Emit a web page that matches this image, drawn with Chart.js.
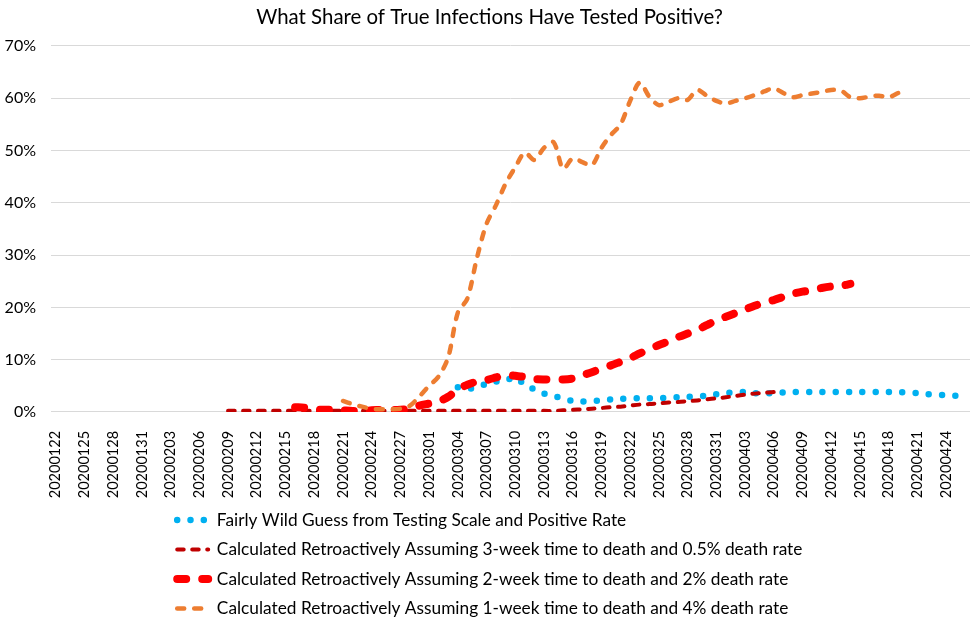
<!DOCTYPE html>
<html lang="en">
<head>
    <meta charset="UTF-8">
    <title>What Share of True Infections Have Tested Positive?</title>
    <style>
        body {
            margin: 0;
            background: #fff;
        }
        .chart-box {
            width: 979px;
            height: 624px;
        }
    </style>
</head>
<body>
<div class="chart-box">
    <canvas id="share-chart"></canvas>
</div>

<script src="https://cdn.jsdelivr.net/npm/chart.js"></script>
<script>
    // Categories: one per day, labelled every third day on the axis
    const dates = [
        '20200122', '20200123', '20200124', '20200125', '20200126', '20200127', '20200128', '20200129', '20200130', '20200131',
        '20200201', '20200202', '20200203', '20200204', '20200205', '20200206', '20200207', '20200208', '20200209', '20200210',
        '20200211', '20200212', '20200213', '20200214', '20200215', '20200216', '20200217', '20200218', '20200219', '20200220',
        '20200221', '20200222', '20200223', '20200224', '20200225', '20200226', '20200227', '20200228', '20200229',
        '20200301', '20200302', '20200303', '20200304', '20200305', '20200306', '20200307', '20200308', '20200309', '20200310',
        '20200311', '20200312', '20200313', '20200314', '20200315', '20200316', '20200317', '20200318', '20200319', '20200320',
        '20200321', '20200322', '20200323', '20200324', '20200325', '20200326', '20200327', '20200328', '20200329', '20200330',
        '20200331',
        '20200401', '20200402', '20200403', '20200404', '20200405', '20200406', '20200407', '20200408', '20200409', '20200410',
        '20200411', '20200412', '20200413', '20200414', '20200415', '20200416', '20200417', '20200418', '20200419', '20200420',
        '20200421', '20200422', '20200423', '20200424', '20200425', '20200426'
    ];

    const N = null; // no value for that day

    // Fairly wild guess (percent), starts 20200304
    const wildGuess = [
        N, N, N, N, N, N, N, N, N, N,
        N, N, N, N, N, N, N, N, N, N,
        N, N, N, N, N, N, N, N, N, N,
        N, N, N, N, N, N, N, N, N, N,
        N, N,
        4.7, 4.5, 4.6, 5.4, 5.8, 6.0, 6.6, 5.2, 4.3, 3.5,
        3.1, 2.5, 2.1, 2.0, 2.1, 2.2, 2.4, 2.5, 2.6, 2.6,
        2.6, 2.6, 2.7, 2.8, 2.9, 3.0, 3.1, 3.4, 3.6, 3.7,
        3.8, 3.6, 3.6, 3.6, 3.7, 3.8, 3.8, 3.8, 3.8, 3.8,
        3.8, 3.8, 3.8, 3.8, 3.8, 3.8, 3.8, 3.7, 3.6, 3.4,
        3.3, 3.2, 3.1, 3.1
    ];

    // 3-week time to death, 0.5% death rate (20200209 .. 20200406)
    const threeWeek = [
        N, N, N, N, N, N, N, N, N, N,
        N, N, N, N, N, N, N, N,
        0.2, 0.2, 0.2, 0.2, 0.2, 0.2, 0.2, 0.2, 0.2, 0.2,
        0.2, 0.2, 0.2, 0.2, 0.2, 0.2, 0.2, 0.2, 0.2, 0.2,
        0.2, 0.2, 0.2, 0.2, 0.2, 0.2, 0.2, 0.2, 0.2, 0.2,
        0.2, 0.2, 0.2, 0.2, 0.2,
        0.3, 0.4, 0.5, 0.6, 0.75, 0.9, 1.0, 1.2, 1.4, 1.5,
        1.65, 1.8, 1.9, 2.05, 2.2, 2.4, 2.6, 2.8, 3.05, 3.3,
        3.5, 3.65, 3.8,
        N, N, N, N, N, N, N, N, N, N,
        N, N, N, N, N, N, N, N, N, N
    ];

    // 2-week time to death, 2% death rate (20200216 .. 20200414)
    const twoWeek = [
        N, N, N, N, N, N, N, N, N, N,
        N, N, N, N, N, N, N, N, N, N,
        N, N, N, N, N,
        0.9, 0.8, 0.5, 0.4, 0.4, 0.3, 0.2, 0.2, 0.3, 0.4,
        0.4, 0.4, 0.6, 1.2, 1.6, 2.0, 2.9, 4.3, 5.2, 5.8,
        6.1, 6.6, 7.1, 6.9, 6.7, 6.3, 6.2, 6.2, 6.2, 6.4,
        7.0, 7.6, 8.3, 8.9, 9.6, 10.3, 11.2, 12.0, 12.8, 13.5,
        14.3, 15.0, 15.7, 16.6, 17.5, 18.2, 18.9, 19.6, 20.3, 20.9,
        21.4, 22.0, 22.6, 23.0, 23.3, 23.7, 24.0, 24.1, 24.5,
        N, N, N, N, N, N, N, N, N, N,
        N, N
    ];

    // 1-week time to death, 4% death rate (20200221 .. 20200419)
    const oneWeek = [
        N, N, N, N, N, N, N, N, N, N,
        N, N, N, N, N, N, N, N, N, N,
        N, N, N, N, N, N, N, N, N, N,
        2.1, 1.5, 1.0, 0.6, 0.5, 0.5, 0.6, 1.2, 3.0, 5.0,
        6.8, 10.5, 19.0, 21.7, 29.5, 36.0, 39.6, 43.7, 46.8, 49.6,
        48.2, 50.5, 51.6, 46.5, 48.5, 47.8, 47.2, 50.5, 53.0, 55.0,
        59.5, 63.0, 60.3, 58.7, 59.3, 60.0, 59.7, 61.6, 60.5, 59.5,
        59.0, 59.5, 60.0, 60.6, 61.3, 61.9, 61.0, 60.2, 60.6, 60.9,
        61.2, 61.6, 61.5, 60.2, 60.0, 60.3, 60.5, 60.2, 61.0,
        N, N, N, N, N, N, N
    ];

    const seriesNames = [
        'Fairly Wild Guess from Testing Scale and Positive Rate',
        'Calculated Retroactively Assuming 3-week time to death and 0.5% death rate',
        'Calculated Retroactively Assuming 2-week time to death and 2% death rate',
        'Calculated Retroactively Assuming 1-week time to death and 4% death rate'
    ];

    const FONT = 'Lato, "Open Sans", sans-serif';
    Chart.defaults.font.family = FONT;
    Chart.defaults.color = '#000';

    // Excel-style legend: rows left aligned, block roughly centred
    const legendShift = {
        id: 'legendShift',
        afterLayout(chart) {
            chart.legend.left = 165;
        }
    };

    // Legend samples take the dash and cap of their line
    function legendLabels(chart) {
        const items = Chart.defaults.plugins.legend.labels.generateLabels(chart);
        items.forEach(item => {
            const ds = chart.data.datasets[item.datasetIndex];
            item.lineDash = ds.borderDash;
            item.lineCap = ds.borderCapStyle;
            item.lineWidth = ds.borderWidth;
            item.strokeStyle = ds.borderColor;
        });
        return items.sort((a, b) => a.datasetIndex - b.datasetIndex);
    }

    const ctx = document.getElementById('share-chart').getContext('2d');
    new Chart(ctx, {
        type: 'line',
        data: {
            labels: dates,
            datasets: [
                {
                    label: seriesNames[0],
                    data: wildGuess,
                    borderColor: '#00B0F0',
                    backgroundColor: '#00B0F0',
                    borderWidth: 6.5,
                    borderDash: [0, 13.3],
                    borderCapStyle: 'round',
                    order: 4
                },
                {
                    label: seriesNames[1],
                    data: threeWeek,
                    borderColor: '#C00000',
                    backgroundColor: '#C00000',
                    borderWidth: 4,
                    borderDash: [6.5, 8.5],
                    borderCapStyle: 'round',
                    order: 3
                },
                {
                    label: seriesNames[2],
                    data: twoWeek,
                    borderColor: '#FF0000',
                    backgroundColor: '#FF0000',
                    borderWidth: 8,
                    borderDash: [9, 16],
                    borderCapStyle: 'round',
                    order: 2
                },
                {
                    label: seriesNames[3],
                    data: oneWeek,
                    borderColor: '#ED7D31',
                    backgroundColor: '#ED7D31',
                    borderWidth: 4.5,
                    borderDash: [7, 10],
                    borderCapStyle: 'round',
                    order: 1
                }
            ]
        },
        options: {
            responsive: true,
            maintainAspectRatio: false,
            animation: false,
            layout: {
                padding: { left: 0, right: 0, top: 0, bottom: -3.2 }
            },
            elements: {
                point: { radius: 0 },
                line: { tension: 0.3, fill: false }
            },
            plugins: {
                title: {
                    display: true,
                    text: 'What Share of True Infections Have Tested Positive?',
                    font: { size: 20.4, weight: 'normal' },
                    color: '#000',
                    padding: { top: 5, bottom: 16.5 }
                },
                legend: {
                    position: 'bottom',
                    align: 'start',
                    labels: {
                        usePointStyle: true,
                        pointStyle: 'line',
                        pointStyleWidth: 31,
                        padding: 12.2,
                        font: { size: 17.3 },
                        color: '#000',
                        generateLabels: legendLabels
                    }
                },
                tooltip: { enabled: false }
            },
            scales: {
                x: {
                    offset: true,
                    grid: { display: false },
                    border: { display: false },
                    ticks: {
                        autoSkip: false,
                        minRotation: 90,
                        maxRotation: 90,
                        padding: 11,
                        font: { size: 14.5 },
                        color: '#000',
                        callback: (value, index) => index % 3 === 0 ? dates[index] : ''
                    },
                    // padding is counted twice by the fit; drop most of the spare part,
                    // and keep the plot reaching close to the right edge like the original
                    afterFit: scale => {
                        scale.height -= 10;
                        scale.paddingRight = 9;
                    }
                },
                y: {
                    min: 0,
                    max: 70,
                    grid: { color: '#D9D9D9', lineWidth: 1, drawTicks: false },
                    border: { display: false },
                    ticks: {
                        stepSize: 10,
                        padding: 15,
                        font: { size: 16 },
                        color: '#000',
                        callback: value => value + '%'
                    },
                    // same double padding on the left axis
                    afterFit: scale => { scale.width -= 10.4; }
                }
            }
        },
        plugins: [legendShift]
    });
</script>
</body>
</html>
